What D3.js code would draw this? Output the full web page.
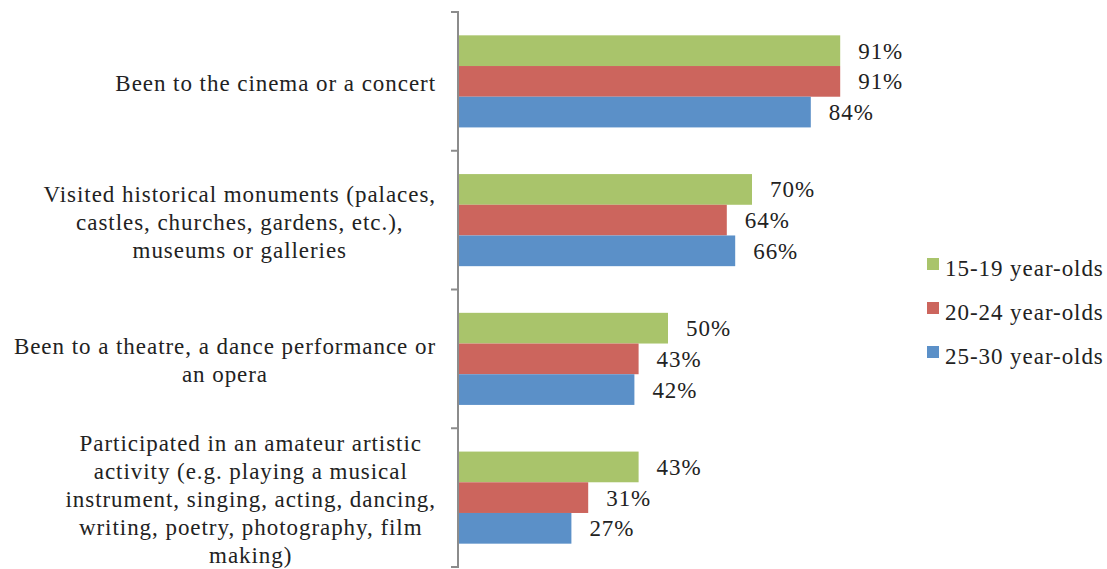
<!DOCTYPE html>
<html><head><meta charset="utf-8">
<script src="https://cdn.jsdelivr.net/npm/d3@7"></script>
<style>body{margin:0;background:#fff}svg{display:block}</style>
</head><body>
<svg id="chart" width="1107" height="569"></svg>
<script>
const categories = [
  ["Been to the cinema or a concert"],
  ["Visited historical monuments (palaces,", "castles, churches, gardens, etc.),", "museums or galleries"],
  ["Been to a theatre, a dance performance or", "an opera"],
  ["Participated in an amateur artistic", "activity (e.g. playing a musical", "instrument, singing, acting, dancing,", "writing, poetry, photography, film", "making)"]
];
const seriesNames = ["15-19 year-olds", "20-24 year-olds", "25-30 year-olds"];
const age15_19 = [91, 70, 50, 43];
const age20_24 = [91, 64, 43, 31];
const age25_30 = [84, 66, 42, 27];
const colors = ["#A9C46B", "#CC655D", "#5B90C8"];

const series = [age15_19, age20_24, age25_30];
const svg = d3.select("#chart");
const font = "'Liberation Serif','Times New Roman',serif";
const fs = 23;
const ls = "0.95px";

const x0 = 458, yTop = 12, yBot = 567;
const x = d3.scaleLinear().domain([0, 100]).range([x0, x0 + 420]);
const y = d3.scaleBand().domain(d3.range(categories.length)).range([yTop, yBot]).paddingInner(0).paddingOuter(0);
const inner = d3.scaleBand().domain(d3.range(3)).range([0, y.bandwidth()]).paddingInner(0).paddingOuter(0.76);

// axis
const edges = d3.range(categories.length + 1).map(i => yTop + i * y.step());
svg.selectAll("line.tk").data(edges).join("line")
  .attr("x1", x0 - 7).attr("x2", x0).attr("y1", d => d).attr("y2", d => d)
  .attr("stroke", "#8c8c8c").attr("stroke-width", 2);
svg.append("line").attr("x1", x0).attr("x2", x0).attr("y1", yTop - 1).attr("y2", yBot + 1)
  .attr("stroke", "#8c8c8c").attr("stroke-width", 2);

// bars
series.forEach((vals, s) => {
  svg.append("g").selectAll("rect").data(vals).join("rect")
    .attr("x", x(0) + 1)
    .attr("y", (d, i) => y(i) + inner(s))
    .attr("width", d => x(d) - x(0) - 1)
    .attr("height", inner.bandwidth())
    .attr("fill", colors[s]);
  svg.append("g").selectAll("text").data(vals).join("text")
    .attr("x", d => x(d) + 18)
    .attr("y", (d, i) => y(i) + inner(s) + inner.bandwidth() / 2)
    .attr("dy", "0.35em")
    .attr("font-family", font).attr("font-size", fs).attr("letter-spacing", ls).attr("fill", "#222")
    .text(d => d + "%");
});

// category labels
const lh = 28;
categories.forEach((lines, i) => {
  const g = svg.append("g");
  const cy = y(i) + y.bandwidth() / 2 + 1.5;
  const n = lines.length;
  const texts = g.selectAll("text").data(lines).join("text")
    .attr("y", (d, k) => cy + (k - (n - 1) / 2) * lh)
    .attr("dy", "0.35em")
    .attr("font-family", font).attr("font-size", fs).attr("letter-spacing", ls).attr("fill", "#222")
    .attr("text-anchor", "middle")
    .text(d => d);
  let maxW = 0;
  texts.each(function () { maxW = Math.max(maxW, this.getComputedTextLength()); });
  texts.attr("x", 436 - maxW / 2);
});

// legend
const lg = svg.append("g");
seriesNames.forEach((name, s) => {
  const ly = 264 + s * 44;
  lg.append("rect").attr("x", 927).attr("y", ly - 6).attr("width", 12).attr("height", 12).attr("fill", colors[s]);
  lg.append("text").attr("x", 945).attr("y", ly + 4).attr("dy", "0.35em")
    .attr("font-family", font).attr("font-size", fs).attr("letter-spacing", ls).attr("fill", "#222").text(name);
});
</script>
</body></html>
